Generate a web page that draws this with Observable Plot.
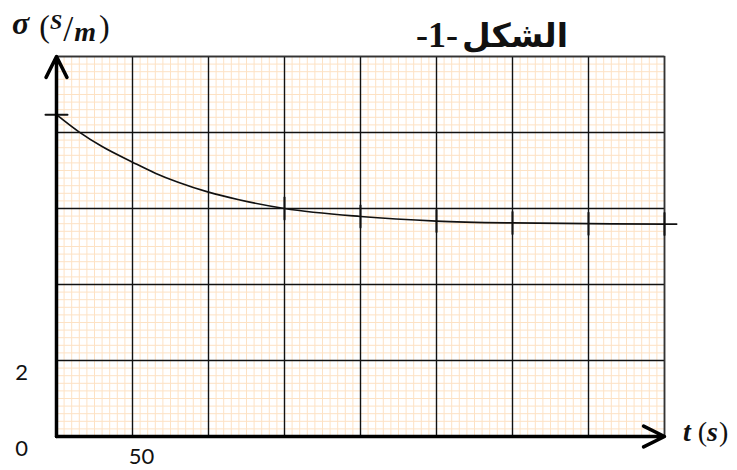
<!DOCTYPE html>
<html><head><meta charset="utf-8">
<script src="https://cdn.jsdelivr.net/npm/d3@7"></script>
<script src="https://cdn.jsdelivr.net/npm/@observablehq/plot@0.6"></script>
<style>body{margin:0;background:#fff;}</style>
</head><body><div id="chart"></div>
<script>
// --- data ---
const times = [0, 15, 30, 50, 65, 80, 100, 120, 150, 200, 250, 300, 350, 400, 408];
const sigma = [8.47, 8.01, 7.63, 7.22, 6.93, 6.69, 6.43, 6.23, 6.0, 5.79, 5.67, 5.62, 5.6, 5.59, 5.59];
const markedTimes = [150, 200, 250, 300, 350, 400];
const xDomain = [0, 400];
const yDomain = [0, 10];
const majorX = d3.range(50, 401, 50);
const majorY = d3.range(2, 10.01, 2);
const minorX = d3.range(0, 401, 5);
const minorY = d3.range(0, 10.01, 0.2);
const xTickLabels = [50];
const yTickLabels = [0, 2];

const data = times.map((t, i) => ({t, s: sigma[i]}));
const marked = data.filter(d => markedTimes.includes(d.t));
const bar = {draw(c, l) { c.moveTo(0, 0); c.lineTo(0, -l); }};
const axesArrows = [
  {x1: xDomain[0], y1: yDomain[0], x2: xDomain[0], y2: yDomain[1]},
  {x1: xDomain[0], y1: yDomain[0], x2: xDomain[1], y2: yDomain[0]}
];

const plot = Plot.plot({
  width: 737, height: 470,
  marginLeft: 56, marginRight: 73, marginTop: 56, marginBottom: 34,
  x: {domain: xDomain}, y: {domain: yDomain},
  style: {background: "white", overflow: "visible", fontFamily: "Lato", fontSize: "22px", color: "#111"},
  marks: [
    Plot.ruleX(minorX, {stroke: "#fde2c4", strokeWidth: 1}),
    Plot.ruleY(minorY, {stroke: "#fde2c4", strokeWidth: 1}),
    Plot.ruleX(majorX, {stroke: "#111", strokeWidth: 1.4}),
    Plot.ruleY(majorY, {stroke: "#111", strokeWidth: 1.4}),
    Plot.frame({stroke: "#333", strokeWidth: 1.5}),
    Plot.line(data, {x: "t", y: "s", curve: "monotone-x", stroke: "#111", strokeWidth: 1.7}),
    Plot.vector(marked, {x: "t", y: "s", length: 22, anchor: "middle", shape: bar, stroke: "#111", strokeWidth: 2}),
    Plot.vector([data[0]], {x: "t", y: "s", length: 22, rotate: 90, anchor: "middle", shape: bar, stroke: "#111", strokeWidth: 2}),
    Plot.arrow(axesArrows, {x1: "x1", y1: "y1", x2: "x2", y2: "y2", stroke: "black", strokeWidth: 3.5, headAngle: 53, headLength: 10}),
    Plot.axisY(yTickLabels, {tickSize: 0, textAnchor: "middle", dx: -26, dy: 12.5, label: null}),
    Plot.axisX(xTickLabels, {tickSize: 0, dx: 9, dy: 3, label: null})
  ]
});
document.getElementById("chart").appendChild(plot);

// --- text labels (one text element each, tspans flow with relative shifts) ---
const svg = d3.select(plot);
const serif = "'Liberation Serif', 'DejaVu Serif', serif";
function piece(parent, txt, size, bi, dy, dx) {
  const t = parent.append("tspan").style("font-size", size + "px").text(txt);
  if (dy) t.attr("dy", dy);
  if (dx) t.attr("dx", dx);
  if (bi) t.style("font-weight", "bold").style("font-style", "italic");
  return t;
}
const yl = svg.append("text").attr("x", 12).attr("y", 34).attr("text-anchor", "start")
  .style("font-family", serif).attr("fill", "#111");
piece(yl, "σ", 32, true, 0, 0);
piece(yl, " (", 32, false, 3, 2);
piece(yl, "S", 22, true, -8, 0);
piece(yl, "/", 36, false, 12, 1);
piece(yl, "m", 28, true, 0, 1);
piece(yl, ")", 32, false, -4, 3);

const xl = svg.append("text").attr("x", 683).attr("y", 441).attr("text-anchor", "start")
  .style("font-family", serif).attr("fill", "#111");
piece(xl, "t", 28, true, 0, 0);
piece(xl, " (", 28, false, 0, 0);
piece(xl, "s", 28, true, 0, 0);
piece(xl, ")", 28, false, 0, 1);

svg.append("text").attr("x", 568).attr("y", 47).attr("text-anchor", "end")
  .style("font-family", "'DejaVu Sans'").style("font-weight", "bold").style("font-size", "33px").attr("fill", "#111")
  .text("الشكل");
svg.append("text").attr("x", 458).attr("y", 47).attr("text-anchor", "end")
  .style("font-family", serif).style("font-weight", "bold").style("font-size", "36px").attr("fill", "#111")
  .text("-1-");
</script>
</body></html>
